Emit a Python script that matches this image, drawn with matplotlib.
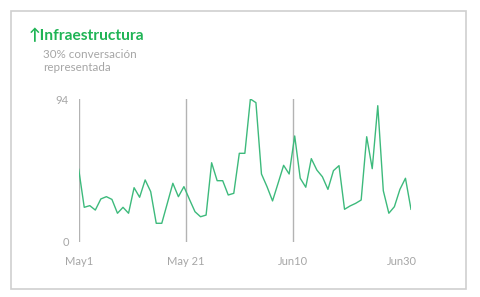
import matplotlib
matplotlib.use("Agg")
import matplotlib.pyplot as plt
from matplotlib.patches import Rectangle

# daily-ish series, May 1 onwards
values = [47.8, 22.8, 23.9, 21.0, 28.3, 29.8, 28.0, 18.9, 22.8, 18.9,
          35.7, 29.4, 40.8, 33.1, 12.3, 12.3, 25.4, 38.6, 29.8, 36.4,
          28.0, 19.9, 16.6, 17.7, 52.1, 40.3, 40.3, 30.9, 32.0, 58.3,
          58.3, 94.0, 91.6, 44.7, 36.4, 27.0, 38.6, 50.4, 44.7, 69.7,
          41.9, 36.0, 54.8, 47.3, 42.9, 34.6, 46.9, 50.2, 21.5, 23.7,
          25.4, 27.6, 69.2, 48.2, 89.6, 33.7, 18.9, 23.2, 34.6, 41.9,
          21.5]
tick_labels = ["May1", "May 21", "Jun10", "Jun30"]
tick_pos = [0, 19.4, 38.7, 58.4]
guide_pos = [0, 19.4, 38.7]
y_max = 94

title = "\u2191Infraestructura"
subtitle = "30% conversaci\u00f3n\nrepresentada"

green_line = "#3dba7c"
green_title = "#1fb455"
gray_text = "#a6a6a6"

W, H = 481, 297
fig = plt.figure(figsize=(W / 100, H / 100), dpi=100)
fig.patch.set_facecolor("white")

# card border
fig.patches.append(Rectangle((11 / W, (H - 288.5) / H), 455.5 / W, 277.5 / H,
                             transform=fig.transFigure, fill=False,
                             edgecolor="#cfcfcf", linewidth=1.2))

ax = fig.add_axes([78.7 / W, (H - 242) / H, (411 - 78.7) / W, 143 / H])
x = list(range(len(values)))
for gx in guide_pos:
    ax.plot([gx, gx], [0, y_max], color="#b3b3b3", linewidth=1.0, zorder=1)
ax.plot(x, values, color=green_line, linewidth=1.0, zorder=2)

ax.set_xlim(0, len(values) - 1)
ax.set_ylim(0, y_max)
for s in ax.spines.values():
    s.set_visible(False)
ax.set_facecolor("none")

ax.set_yticks([0, y_max])
ax.set_yticklabels(["0", "94"])
ax.set_xticks(tick_pos)
ax.set_xticklabels(tick_labels)
ax.tick_params(axis="y", length=0, pad=7, labelsize=8, labelcolor=gray_text)
ax.tick_params(axis="x", length=0, pad=10, labelsize=8, labelcolor=gray_text)
for lab in ax.get_xticklabels() + ax.get_yticklabels():
    lab.set_family(["Lato", "DejaVu Sans"])

fig.text(29 / W, 1 - 36 / H, title, color=green_title, fontsize=11.2,
         fontweight="bold", family=["Lato", "DejaVu Sans"], va="center", ha="left")
fig.text(43 / W, 1 - 49.5 / H, subtitle, color=gray_text, fontsize=8.4,
         family=["Lato", "DejaVu Sans"], va="top", ha="left", linespacing=1.2)

fig.savefig("out.png", dpi=100)
